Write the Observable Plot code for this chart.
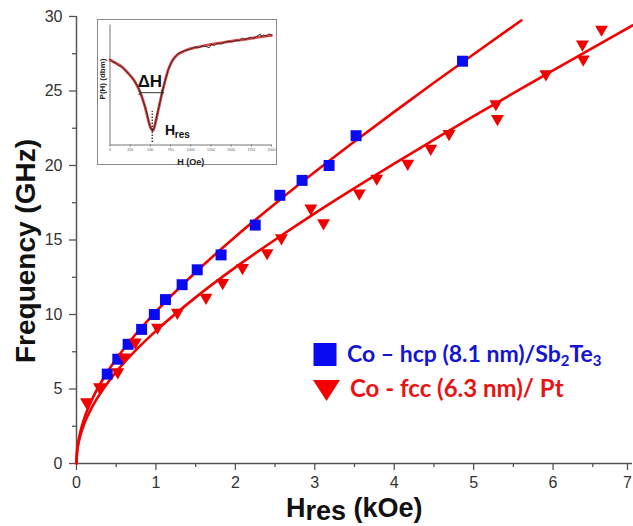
<!DOCTYPE html>
<html><head><meta charset="utf-8">
<script src="https://cdn.jsdelivr.net/npm/d3@7"></script>
<script src="https://cdn.jsdelivr.net/npm/@observablehq/plot@0.6"></script>
<style>
body{margin:0;background:#fff}
#wrap{position:relative;width:633px;height:526px}
#inset{position:absolute;left:97px;top:19px;border:1.5px solid #8a8a8a;background:#fff;line-height:0}
</style>
</head><body><div id="wrap"></div>
<script>
// ---- main data (H_res in kOe, frequency in GHz) ----
const hcpH = [0.387,0.52,0.65,0.82,0.98,1.12,1.33,1.52,1.82,2.25,2.56,2.84,3.18,3.52,4.86];
const hcpF = [6,7,8,9,10,11,12,13,14,16,18,19,20,22,27];
const fccH = [0.126,0.29,0.52,0.60,0.74,1.02,1.27,1.63,1.84,2.09,2.40,2.58,2.95,3.11,3.56,3.78,4.17,4.46,4.69,5.28,5.30,5.91,6.37,6.38,6.61];
const fccF = [4,5,6,7,8,9,10,11,12,13,14,15,17,16,18,19,20,21,22,24,23,26,28,27,29];
// fit curves
const hcpFitH = [0,0.005,0.02,0.05,0.1,0.2,0.35,0.5,0.75,1,1.5,2,2.5,3,3.5,4,4.5,5,5.6];
const hcpFitF = [0,0.68,1.36,2.16,3.06,4.35,5.81,7.01,8.71,10.2,12.84,15.22,17.44,19.56,21.61,23.6,25.55,27.47,29.74];
const fccFitH = [0,0.005,0.02,0.05,0.1,0.2,0.35,0.5,0.75,1,1.5,2,2.5,3,3.5,4,4.5,5,5.5,6,6.5,7];
const fccFitF = [0,0.6,1.2,1.9,2.69,3.83,5.10,6.15,7.62,8.9,11.15,13.16,15.02,16.79,18.48,20.13,21.73,23.31,24.85,26.38,27.89,29.4];
// ticks
const yMajor = [0,5,10,15,20,25,30];
const yMinor = [2.5,7.5,12.5,17.5,22.5,27.5];
const xMajor = [0,1,2,3,4,5,6];
const xLast = [7];
const xMinor = [0.5,1.5,2.5,3.5,4.5,5.5,6.5];
// legend
const legendLabels = ["Co \u2013 hcp (8.1 nm)/Sb", "Co - fcc (6.3 nm)/ Pt"];

// ---- inset data (H in Oe, P(H) relative) ----
const insetFitH = [0,62,144,227,309,371,433,474,507,532,556,598,639,680,721,783,845,927,1051,1257,1463,1669,1875,2000];
const insetFitP = [70.8,68.6,65.3,59.7,52.8,44.4,31.9,20.8,13.9,11.9,16.7,29.2,41.7,52.8,62.5,71.4,75.8,78.6,81.1,83.9,86.1,88.1,90.3,91.4];
const insetDataH = [0,30,62,100,144,190,227,270,309,340,371,400,433,455,474,490,507,520,532,545,556,575,598,620,639,660,680,700,721,750,783,815,845,880,927,980,1051,1100,1150,1190,1230,1257,1290,1330,1380,1420,1463,1510,1560,1600,1640,1669,1700,1740,1780,1820,1860,1875,1900,1940,1970,2000];
const insetDataP = [71.5,69.5,68.8,66.5,65,62.5,59.5,56.5,52.5,49,44.8,39,32,27,21,16.5,13.5,12,12.2,14,16.5,22.5,29.5,36,42,47.5,53,57.5,62.8,67.5,71.6,74,76.5,77.2,78.8,79.5,81.5,81.2,82.6,82,81,84.2,82.8,84.6,84.2,85.6,86.4,85.8,87.4,86.8,89,88,88.6,89.8,88.8,90.8,92.5,90.2,91.6,90.8,92.8,91.4];
const insetTicks = [0,250,500,750,1000,1250,1500,1750,2000];

const hcp = hcpH.map((h,i)=>({h, f:hcpF[i]}));
const fcc = fccH.map((h,i)=>({h, f:fccF[i]}));
const hcpFit = hcpFitH.map((h,i)=>({h, f:hcpFitF[i]}));
const fccFit = fccFitH.map((h,i)=>({h, f:fccFitF[i]}));
const insetFit = insetFitH.map((h,i)=>({h, p:insetFitP[i]}));
const insetData = insetDataH.map((h,i)=>({h, p:insetDataP[i]}));

const FONT = "'Liberation Sans', Arial, sans-serif";
const RED = "#f20000", BLUE = "#0a0af0";
const fmt = d => String(d);

const main = Plot.plot({
  width:633, height:526,
  marginLeft:76, marginRight:1, marginTop:16, marginBottom:63,
  x:{domain:[0,7]}, y:{domain:[0,30]},
  style:{fontFamily:FONT, background:"#fff", color:"#333", overflow:"visible"},
  marks:[
    Plot.axisY({ticks:yMajor, tickFormat:fmt, tickSize:7, tickPadding:7, fontSize:16, stroke:"#555", strokeWidth:1.3, label:null}),
    Plot.axisY({ticks:yMinor, tickSize:4, fill:"none", stroke:"#555", strokeWidth:1.3, label:null}),
    Plot.axisX({ticks:xMajor, tickFormat:fmt, tickSize:7, tickPadding:6, fontSize:16, stroke:"#555", strokeWidth:1.3, label:null}),
    Plot.axisX({ticks:xLast, tickFormat:fmt, tickSize:7, tickPadding:6, fontSize:16, stroke:"#555", strokeWidth:1.3, label:null, dx:-5}),
    Plot.axisX({ticks:xMinor, tickSize:4, fill:"none", stroke:"#555", strokeWidth:1.3, label:null}),
    Plot.ruleX([0], {stroke:"#555", strokeWidth:1.5}),
    Plot.ruleY([0], {stroke:"#555", strokeWidth:1.5}),
    Plot.line(fccFit, {x:"h", y:"f", stroke:RED, strokeWidth:2.6, curve:"monotone-x"}),
    Plot.line(hcpFit, {x:"h", y:"f", stroke:RED, strokeWidth:2.6, curve:"monotone-x"}),
    Plot.dot(hcp, {x:"h", y:"f", symbol:"square", r:6.2, fill:BLUE, stroke:"none"}),
    Plot.dot(fcc, {x:"h", y:"f", symbol:"triangle", r:4.8, rotate:180, dy:-2, fill:RED, stroke:"none"})
  ]
});

const wrap = document.getElementById("wrap");
wrap.appendChild(main);

const svg = d3.select(main);
// y axis title
svg.append("text")
  .attr("transform","translate(35,251) rotate(-90)")
  .attr("text-anchor","middle")
  .style("font-family",FONT).style("font-size","28px").style("font-weight","bold").attr("fill","#111")
  .text("Frequency (GHz)");
// x axis title with subscript
const xt = svg.append("text").attr("x",286).attr("y",516.5).attr("text-anchor","start")
  .style("font-family",FONT).style("font-size","27px").style("font-weight","bold").attr("fill","#111");
xt.append("tspan").text("H");
xt.append("tspan").attr("dy",3).text("res");
xt.append("tspan").attr("dy",-3).text(" (kOe)");

// legend
const LFONT = "Lato, 'Open Sans', sans-serif";
svg.append("path").attr("d", d3.symbol(d3.symbolSquare, 23*23)()).attr("transform","translate(325,354.5)").attr("fill",BLUE);
const l1 = svg.append("text").attr("x",347).attr("y",362).attr("text-anchor","start")
  .style("font-family",LFONT).style("font-size","23px").style("font-weight","bold").attr("fill","#1414d2");
l1.append("tspan").text(legendLabels[0]);
l1.append("tspan").attr("dy",4).style("font-size","15px").text("2");
l1.append("tspan").attr("dy",-4).text("Te");
l1.append("tspan").attr("dy",4).style("font-size","15px").text("3");
svg.append("path").attr("d","M313,380 L340,380 L326.5,401 Z").attr("fill",RED);
svg.append("text").attr("x",350).attr("y",397).attr("text-anchor","start")
  .style("font-family",LFONT).style("font-size","24px").style("font-weight","bold").attr("fill","#e81414")
  .text(legendLabels[1]);

// ---- inset ----
const inset = Plot.plot({
  width:178, height:144,
  marginLeft:11.5, marginRight:5, marginTop:4.5, marginBottom:19.5,
  x:{domain:[0,2000]}, y:{domain:[0,100], axis:null},
  style:{fontFamily:FONT, background:"#fff", color:"#555", overflow:"visible"},
  marks:[
    Plot.axisX({ticks:insetTicks, tickFormat:fmt, tickSize:2, tickPadding:1, fontSize:3.5, label:null, stroke:"#777"}),
    Plot.ruleX([0], {stroke:"#777", strokeWidth:1}),
    Plot.ruleY([0], {stroke:"#777", strokeWidth:1}),
    Plot.line(insetFit, {x:"h", y:"p", stroke:"#d84848", strokeWidth:2.8, curve:"catmull-rom"}),
    Plot.line(insetData, {x:"h", y:"p", stroke:"#1a1a1a", strokeWidth:0.8}),
    Plot.link([{x1:371, x2:648, y:43.6}], {x1:"x1", x2:"x2", y1:"y", y2:"y", stroke:"#333", strokeWidth:1, markerStart:"arrow", markerEnd:"arrow"}),
    Plot.ruleX([{x:523}], {x:"x", y1:2, y2:28, stroke:"#222", strokeWidth:1.3, strokeDasharray:"1.5,1.5"}),
    Plot.text([{x:494, y:53, t:"\u0394H"}], {x:"x", y:"y", text:"t", fontSize:17, fontWeight:"bold", fill:"#111", textAnchor:"middle"}),
    Plot.text([{x:680, y:12.1, t:"H"}], {x:"x", y:"y", text:"t", fontSize:14, fontWeight:"bold", fill:"#111", textAnchor:"start"}),
    Plot.text([{x:803, y:8.3, t:"res"}], {x:"x", y:"y", text:"t", fontSize:10, fontWeight:"bold", fill:"#111", textAnchor:"start"}),
    Plot.text([{x:1000, y:-14.5, t:"H (Oe)"}], {x:"x", y:"y", text:"t", fontSize:9, fontWeight:"bold", fill:"#222", textAnchor:"middle"}),
    Plot.text([{x:-90, y:55, t:"P(H) (dbm)"}], {x:"x", y:"y", text:"t", fontSize:8, fontWeight:"bold", fill:"#222", rotate:-90, textAnchor:"middle"})
  ]
});
const box = document.createElement("div");
box.id = "inset";
box.appendChild(inset);
wrap.appendChild(box);
</script>
</body></html>
